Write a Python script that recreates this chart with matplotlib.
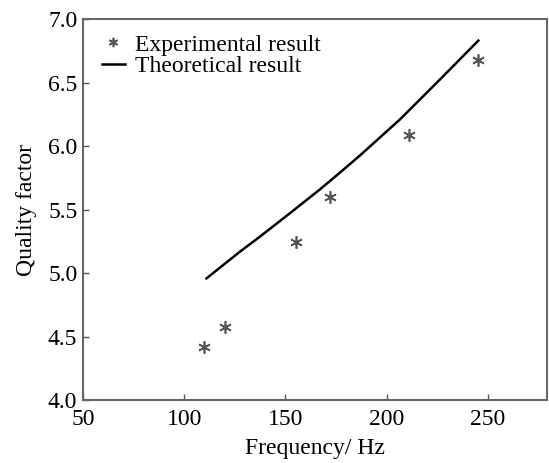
import matplotlib
matplotlib.use('Agg')
import matplotlib.pyplot as plt

plt.rcParams['font.family'] = ['Liberation Serif', 'DejaVu Serif']

# 实验数据
freq_exp = [110, 120, 155, 172, 211, 245]
q_exp = [4.42, 4.58, 5.25, 5.60, 6.09, 6.68]

# 理论曲线
freq_theory = [111, 127.5, 137.5, 152, 167, 176, 187, 206.5, 226, 245.2]
q_theory = [4.96, 5.17, 5.29, 5.47, 5.66, 5.78, 5.93, 6.21, 6.52, 6.83]

x_ticks = [50, 100, 150, 200, 250]
y_ticks = [4.0, 4.5, 5.0, 5.5, 6.0, 6.5, 7.0]

fig = plt.figure(figsize=(5.49, 4.63), dpi=100)
ax = fig.add_axes([0.151, 0.135, 0.845, 0.824])

ax.plot(freq_exp, q_exp, linestyle='none', marker=(6, 2, 0), markersize=9,
        markeredgewidth=1.2, color='#555555', label='Experimental result')
ax.plot(freq_theory, q_theory, color='black', linewidth=1.8, label='Theoretical result')

ax.set_xlim(50, 279)
ax.set_ylim(4.0, 7.0)
ax.set_xticks(x_ticks)
ax.set_yticks(y_ticks)
ax.set_yticklabels([f'{v:.1f}' for v in y_ticks])
ax.tick_params(direction='in', length=4, width=1, color='#555555', labelsize=17)
ax.tick_params(axis='x', pad=6)
ax.tick_params(axis='y', pad=4)

for side in ['left', 'right', 'top', 'bottom']:
    ax.spines[side].set_color('#666666')
    ax.spines[side].set_linewidth(1.5)

ax.set_xlabel('Frequency/ Hz', fontsize=17, labelpad=6)
ax.set_ylabel('Quality factor', fontsize=17, labelpad=8)

ax.legend(loc='upper left', frameon=False, fontsize=17, handlelength=1.0,
          handletextpad=0.4, labelspacing=0.0, borderaxespad=0.0,
          markerscale=0.75, bbox_to_anchor=(0.02, 0.985))

fig.savefig('out.png', dpi=100)
